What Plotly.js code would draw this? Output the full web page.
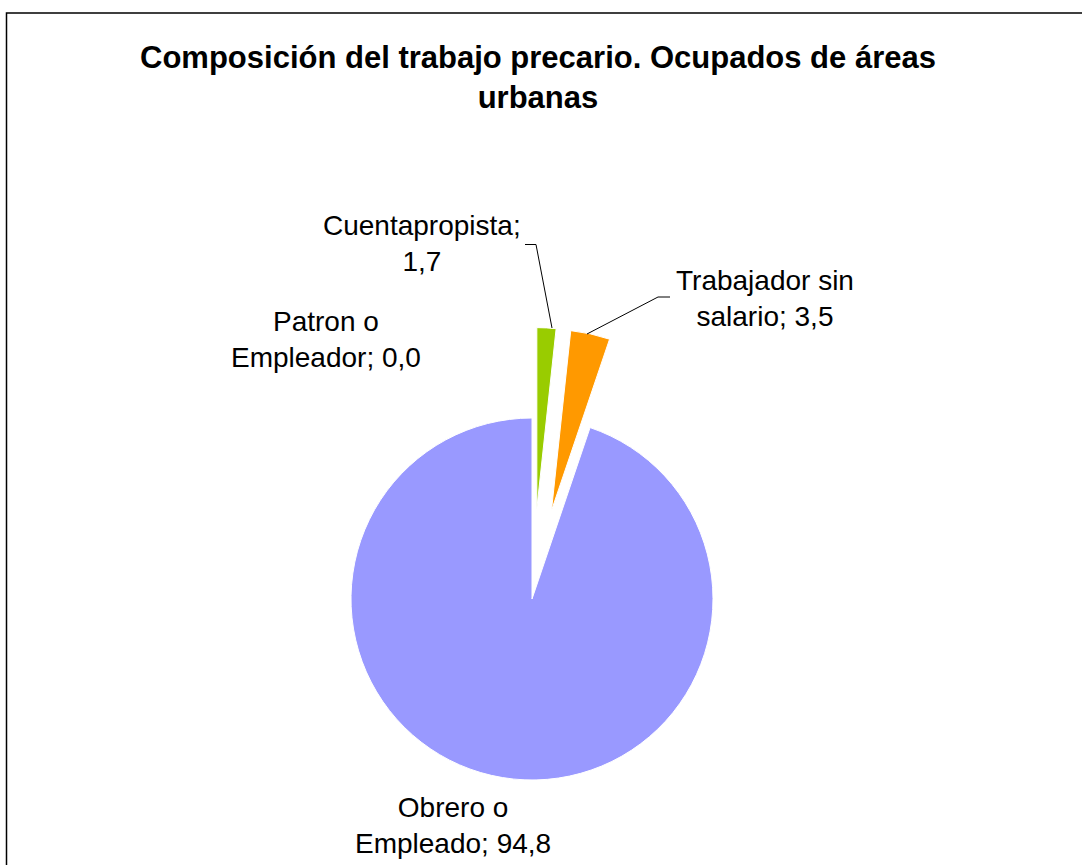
<!DOCTYPE html>
<html>
<head>
<meta charset="utf-8">
<script src="https://cdn.plot.ly/plotly-3.0.1.min.js"></script>
<style>
html,body{margin:0;padding:0;overflow:hidden;background:#fff;}
#chart{width:1082px;height:900px;}
</style>
</head>
<body>
<div id="chart"></div>
<script>
// Data
var categories = ["Patron o Empleador", "Cuentapropista", "Trabajador sin salario", "Obrero o Empleado"];
var labelLines = [["Patron o", "Empleador; 0,0"], ["Cuentapropista;", "1,7"], ["Trabajador sin", "salario; 3,5"], ["Obrero o", "Empleado; 94,8"]];
var values = [0.0, 1.7, 3.5, 94.8];
var sliceColors = ["#993366", "#99CC00", "#FF9900", "#9999FF"];
var pulls = [0, 0.5, 0.5, 0];

var W = 1082, H = 900;
function px(x){ return x / W; }
function py(y){ return 1 - y / H; }

var FONT = "Liberation Sans, Arial, Helvetica, sans-serif";

// label positions (pixel centres)
var labelPos = [[326, 339], [422, 244], [765, 298], [453, 825]];

var annotations = labelLines.map(function(lines, i){
  return {
    text: lines.join("<br>"),
    xref: "paper", yref: "paper",
    x: px(labelPos[i][0]), y: py(labelPos[i][1]),
    xanchor: "center", yanchor: "middle",
    showarrow: false,
    align: "center",
    font: {family: FONT, size: 28, color: "#000"}
  };
});

function path(pts){
  return pts.map(function(p, i){ return (i ? "L" : "M") + px(p[0]) + "," + py(p[1]); }).join(" ");
}

var shapes = [
  {type: "path", xref: "paper", yref: "paper", path: path([[6.5, 920], [6.5, 13], [1100, 13]]),
   line: {color: "#000", width: 1.5}},
  {type: "path", xref: "paper", yref: "paper", path: path([[525, 244.5], [536, 244.5], [552, 328]]),
   line: {color: "#000", width: 1}},
  {type: "path", xref: "paper", yref: "paper", path: path([[670, 297], [658, 297], [587, 334]]),
   line: {color: "#000", width: 1}}
];

var trace = {
  type: "pie",
  labels: categories,
  values: values,
  sort: false,
  direction: "clockwise",
  rotation: 0,
  pull: pulls,
  textinfo: "none",
  hoverinfo: "label+value",
  marker: {colors: sliceColors, line: {color: "#ffffff", width: 1}},
  domain: {x: [px(532 - 271.5), px(532 + 271.5)], y: [py(599 + 271.5), py(599 - 271.5)]},
  showlegend: false
};

var layout = {
  width: W, height: H,
  margin: {l: 0, r: 0, t: 0, b: 0},
  paper_bgcolor: "#fff",
  title: {
    text: "<b>Composición del trabajo precario. Ocupados de áreas<br>urbanas</b>",
    font: {family: FONT, size: 31, color: "#000"},
    x: px(538), xref: "paper", xanchor: "center",
    y: py(68), yref: "container", yanchor: "top"
  },
  annotations: annotations,
  shapes: shapes,
  showlegend: false
};

Plotly.newPlot("chart", [trace], layout, {displayModeBar: false, staticPlot: true});
</script>
</body>
</html>
